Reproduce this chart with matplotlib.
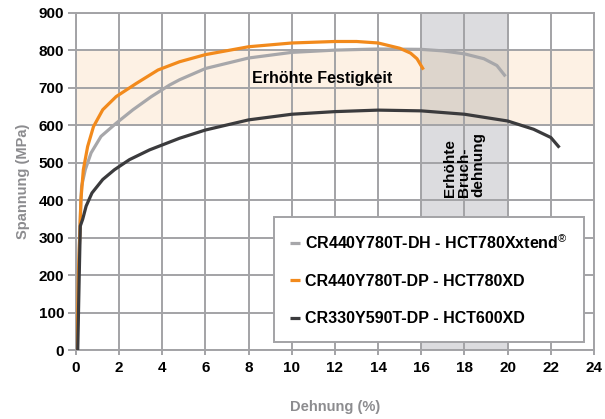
import matplotlib
matplotlib.use("Agg")
import matplotlib.pyplot as plt
from matplotlib.patches import Rectangle

plt.rcParams['font.family'] = ['Liberation Sans', 'DejaVu Sans']
plt.rcParams['mathtext.fontset'] = 'custom'
plt.rcParams['mathtext.rm'] = 'Liberation Sans'

# data
dh_x = [0.05, 0.11, 0.23, 0.26, 0.43, 0.70, 1.16, 1.86, 2.64, 3.49, 4.34, 4.8, 6.0, 8.0,
        10.0, 12.0, 14.0, 16.0, 17.0, 18.0, 18.9, 19.5, 19.9]
dh_y = [0, 200, 403, 438, 482, 527, 571, 606, 642, 677, 708, 722, 752, 780,
        795, 801, 804, 803, 799, 791, 778, 760, 731]

xd780_x = [0.05, 0.11, 0.23, 0.34, 0.54, 0.81, 1.24, 1.86, 2.79, 3.8, 4.8, 6.0, 8.0,
           10.0, 12.0, 13.0, 14.0, 15.0, 15.5, 15.8, 16.1]
xd780_y = [0, 200, 403, 482, 544, 597, 642, 677, 712, 748, 770, 789, 810,
           820, 824, 824, 820, 806, 793, 778, 749]

xd600_x = [0.08, 0.15, 0.2, 0.31, 0.47, 0.74, 1.24, 1.78, 2.48, 3.41, 4.8, 6.0, 8.0,
           10.0, 12.0, 14.0, 16.0, 18.0, 20.0, 21.2, 22.0, 22.4]
xd600_y = [0, 200, 332, 350, 385, 420, 456, 482, 509, 535, 566, 588, 615,
           630, 637, 641, 639, 630, 612, 590, 568, 541]

labels = [r"CR440Y780T-DH - HCT780Xxtend$^{\circledR}$",
          "CR440Y780T-DP - HCT780XD",
          "CR330Y590T-DP - HCT600XD"]
colors = ['#a7a7aa', '#f28a1c', '#3b3b3d']

strength_band = (600, 800)
elong_band = (16, 20)
x_ticks = list(range(0, 25, 2))
y_ticks = list(range(0, 901, 100))

grid_c = '#a3a3a6'

fig = plt.figure(figsize=(6.05, 4.19), dpi=100)
ax = fig.add_axes([0.1256, 0.1635, 0.8562, 0.8055])

# bands
ax.add_patch(Rectangle((0, strength_band[0]), 24, strength_band[1] - strength_band[0],
                       facecolor='#fdf1e4', edgecolor='none', zorder=0))
ax.add_patch(Rectangle((elong_band[0], 0), elong_band[1] - elong_band[0], 900,
                       facecolor='#dcdcdf', edgecolor='none', zorder=0))
ax.add_patch(Rectangle((elong_band[0], strength_band[0]), elong_band[1] - elong_band[0],
                       strength_band[1] - strength_band[0],
                       facecolor='#ddd5cc', edgecolor='none', zorder=0))

for xs, ys, c, lab in zip([dh_x, xd780_x, xd600_x], [dh_y, xd780_y, xd600_y], colors, labels):
    ax.plot(xs, ys, color=c, lw=2.3, label=lab, zorder=3, solid_capstyle='butt')

ax.set_xlim(0, 24)
ax.set_ylim(0, 900)
ax.set_xticks(x_ticks)
ax.set_yticks(y_ticks)
ax.grid(True, color=grid_c, lw=1.4)
ax.set_axisbelow(True)
for s in ax.spines.values():
    s.set_color(grid_c)
    s.set_linewidth(1.4)
ax.tick_params(axis='x', length=3.5, width=1.4, color=grid_c, pad=4, labelsize=11)
ax.tick_params(axis='y', length=5.5, width=1.4, color=grid_c, pad=3, labelsize=11)
for t in ax.get_xticklabels() + ax.get_yticklabels():
    t.set_fontweight('bold')

ax.set_xlabel("Dehnung (%)", color='#8c8c8f', fontsize=10.5, fontweight='bold', labelpad=18)
ax.set_ylabel("Spannung (MPa)", color='#8c8c8f', fontsize=10.5, fontweight='bold', labelpad=6)

ax.text(11.4, 726, "Erhöhte Festigkeit", fontsize=11.5, fontweight='bold',
        ha='center', va='center', zorder=4)
ax.text(18.0, 497, "Erhöhte\nBruch-\ndehnung", fontsize=11, fontweight='bold',
        rotation=90, ha='center', va='center', multialignment='left',
        linespacing=1.0, zorder=4)

leg = ax.legend(loc='upper left', bbox_to_anchor=(0.382, 0.034, 0.599, 0.362),
                mode='expand', borderaxespad=0,
                fontsize=11.5, handlelength=0.63, handletextpad=0.32, labelspacing=1.4,
                borderpad=1.0, fancybox=False, framealpha=1, edgecolor=grid_c)
leg.get_frame().set_linewidth(1.4)
for t in leg.get_texts():
    t.set_fontweight('bold')
leg.set_zorder(5)

fig.savefig("out.png", dpi=100)
